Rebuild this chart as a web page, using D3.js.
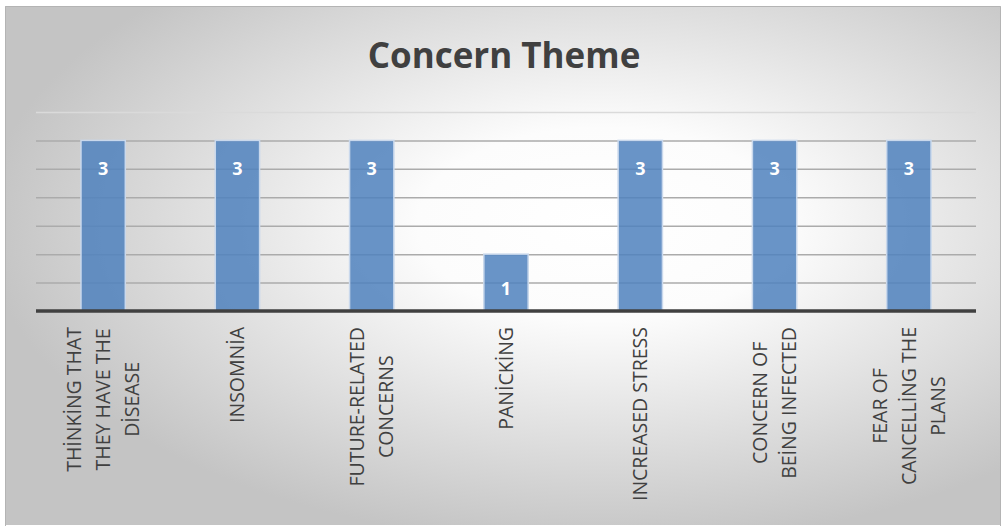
<!DOCTYPE html>
<html>
<head>
<meta charset="utf-8">
<script src="https://cdn.jsdelivr.net/npm/d3@7"></script>
<style>
  html, body { margin: 0; padding: 0; background: #ffffff; }
  svg { display: block; }
</style>
</head>
<body>
<svg id="chart" width="1004" height="526"></svg>
<script>
const categories = [
  ['THİNKİNG THAT', 'THEY HAVE THE', 'DİSEASE'],
  ['INSOMNİA'],
  ['FUTURE-RELATED', 'CONCERNS'],
  ['PANİCKİNG'],
  ['INCREASED STRESS'],
  ['CONCERN OF', 'BEİNG INFECTED'],
  ['FEAR OF', 'CANCELLİNG THE', 'PLANS']
]
const values = [3, 3, 3, 1, 3, 3, 3]
const yTicks = [0, 0.5, 1, 1.5, 2, 2.5, 3, 3.5]
const title = 'Concern Theme'

const svg = d3.select('#chart')
const font = '"Open Sans", "DejaVu Sans", sans-serif'
const margin = { left: 36, right: 28, top: 112, bottom: 215 }
const width = +svg.attr('width')
const height = +svg.attr('height')
const innerWidth = width - margin.left - margin.right
const innerHeight = height - margin.top - margin.bottom

// background panel with radial shading
const defs = svg.append('defs')
const grad = defs.append('radialGradient')
  .attr('id', 'bg')
  .attr('cx', '0.6').attr('cy', '0.42')
  .attr('r', '0.62')
grad.append('stop').attr('offset', '0').attr('stop-color', '#ffffff')
grad.append('stop').attr('offset', '0.3').attr('stop-color', '#fcfcfc')
grad.append('stop').attr('offset', '1').attr('stop-color', '#c4c4c4')

svg.append('rect')
  .attr('x', 5).attr('y', 6)
  .attr('width', 996).attr('height', 519)
  .attr('fill', 'url(#bg)')
svg.append('path')
  .attr('d', 'M5.5,526V6.5H1000.5V526')
  .attr('fill', 'none')
  .attr('stroke', '#b4b4b4')
  .attr('stroke-width', 1)

svg.append('text')
  .attr('x', 504)
  .attr('y', 68)
  .attr('text-anchor', 'middle')
  .style('font-family', font)
  .style('font-weight', 'bold')
  .style('font-size', '35px')
  .style('fill', '#404040')
  .text(title)

const g = svg.append('g')
  .attr('transform', 'translate(' + margin.left + ',' + margin.top + ')')

const x = d3.scaleBand()
  .domain(d3.range(categories.length))
  .range([0, innerWidth])
  .paddingInner(0.67)
  .paddingOuter(0.335)

const y = d3.scaleLinear()
  .domain([0, d3.max(yTicks)])
  .range([innerHeight, 0])

// gridlines
g.append('g')
  .call(d3.axisLeft(y).tickValues(yTicks.slice(1)).tickSize(-innerWidth).tickFormat(''))
  .call(s => s.select('.domain').remove())
  .call(s => s.selectAll('.tick line')
    .attr('stroke', d => d === d3.max(yTicks) ? '#dadada' : '#ababab')
    .attr('stroke-width', 1.5))

// bars
g.selectAll('rect.bar')
  .data(values)
  .enter().append('rect')
  .attr('class', 'bar')
  .attr('x', (d, i) => x(i))
  .attr('y', d => y(d))
  .attr('width', x.bandwidth())
  .attr('height', d => innerHeight - y(d))
  .attr('fill', '#4f81bd')
  .attr('fill-opacity', 0.85)
  .attr('stroke', '#c9d8ec')
  .attr('stroke-width', 1.5)

// value labels
g.selectAll('text.val')
  .data(values)
  .enter().append('text')
  .attr('class', 'val')
  .attr('x', (d, i) => x(i) + x.bandwidth() / 2)
  .attr('y', d => y(d) + (d < 2 ? 41 : 35))
  .attr('text-anchor', 'middle')
  .style('font-family', font)
  .style('font-weight', 'bold')
  .style('font-size', '18px')
  .style('fill', '#ffffff')
  .text(d => d)

// x axis line
g.append('line')
  .attr('x1', 0).attr('x2', innerWidth)
  .attr('y1', innerHeight).attr('y2', innerHeight)
  .attr('stroke', '#404040')
  .attr('stroke-width', 3.5)

// rotated category labels
const lineStep = 29
const labelTop = innerHeight + 16
const labels = g.selectAll('g.lab')
  .data(categories)
  .enter().append('g')
  .attr('class', 'lab')

labels.each(function (lines, i) {
  const cx = x(i) + x.bandwidth() / 2
  const grp = d3.select(this)
  const texts = lines.map(line => grp.append('text')
    .style('font-family', font)
    .style('font-size', '19.5px')
    .style('fill', '#404040')
    .attr('text-anchor', 'middle')
    .text(line))
  const maxLen = d3.max(texts, t => t.node().getComputedTextLength())
  const mid = labelTop + maxLen / 2
  texts.forEach((t, j) => {
    const lx = cx + (j - (lines.length - 1) / 2) * lineStep
    t.attr('transform', 'translate(' + (lx + 7) + ',' + mid + ') rotate(-90)')
  })
})
</script>
</body>
</html>
